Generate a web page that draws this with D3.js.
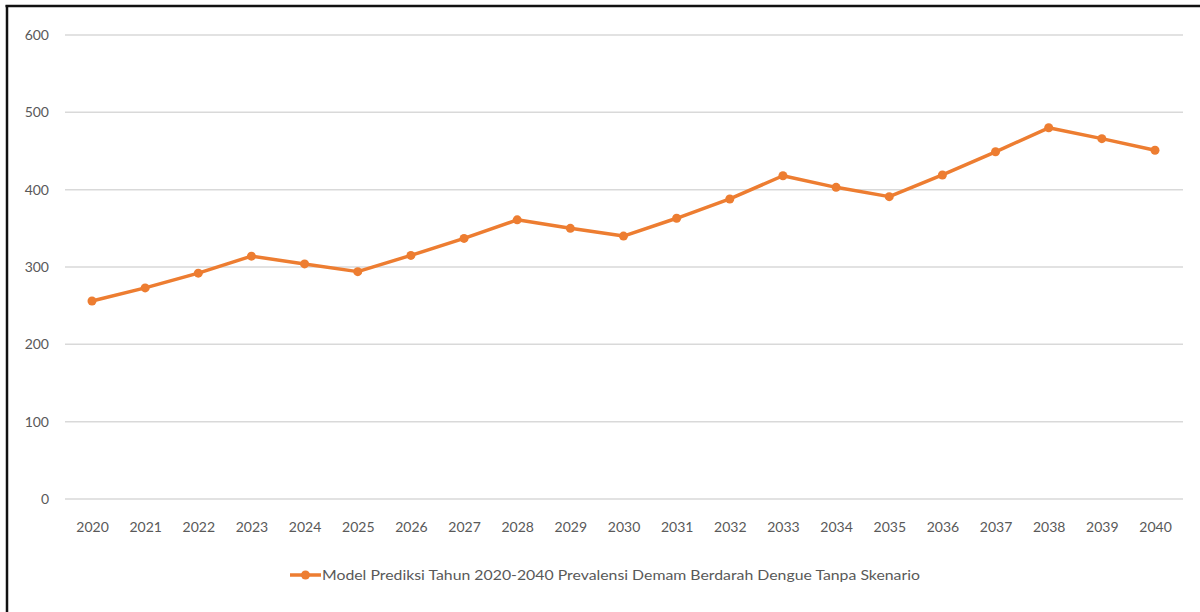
<!DOCTYPE html>
<html><head><meta charset="utf-8">
<script src="https://cdn.jsdelivr.net/npm/d3@7"></script>
<style>body{margin:0;background:#fff}svg{display:block}text{font-family:Lato,"Open Sans",sans-serif;fill:#595959}</style>
</head><body><svg id="c" width="1200" height="612"></svg>
<script>
const years = ["2020","2021","2022","2023","2024","2025","2026","2027","2028","2029","2030","2031","2032","2033","2034","2035","2036","2037","2038","2039","2040"];
const values = [256,273,292,314,304,294,315,337,361,350,340,363,388,418,403,391,419,449,480,466,451];
const yTicks = [0,100,200,300,400,500,600];
const seriesName = "Model Prediksi Tahun 2020-2040 Prevalensi Demam Berdarah Dengue Tanpa Skenario";
const color = "#ED7D31";

const svg = d3.select("#c");
const x = d3.scalePoint().domain(years).range([92,1155]);
const y = d3.scaleLinear().domain([0,600]).range([499,35]);

// gridlines
svg.append("g").selectAll("line").data(yTicks).join("line")
  .attr("x1",65).attr("x2",1183).attr("y1",d=>y(d)).attr("y2",d=>y(d))
  .attr("stroke","#d9d9d9").attr("stroke-width",1.5);

// y axis labels
const ya = svg.append("g").attr("transform","translate(49,0)")
  .call(d3.axisLeft(y).tickValues(yTicks).tickSize(0).tickPadding(0));
ya.select(".domain").remove();
ya.selectAll("text").attr("font-size",14).attr("fill","#595959").style("font-family","Lato,'Open Sans',sans-serif");

// x axis labels
const xa = svg.append("g").attr("transform","translate(0,522)")
  .call(d3.axisBottom(x).tickSize(0).tickPadding(0));
xa.select(".domain").remove();
xa.selectAll("text").attr("font-size",14).attr("fill","#595959").style("font-family","Lato,'Open Sans',sans-serif");

// line
svg.append("path").datum(values)
  .attr("d", d3.line().x((d,i)=>x(years[i])).y(d=>y(d)))
  .attr("fill","none").attr("stroke",color).attr("stroke-width",3.5).attr("stroke-linejoin","round");
svg.append("g").selectAll("circle").data(values).join("circle")
  .attr("cx",(d,i)=>x(years[i])).attr("cy",d=>y(d)).attr("r",4.5).attr("fill",color);

// legend
const lg = svg.append("g").attr("transform","translate(290,575)");
lg.append("line").attr("x1",0).attr("x2",31).attr("stroke",color).attr("stroke-width",3.5);
lg.append("circle").attr("cx",15.5).attr("r",4.5).attr("fill",color);
lg.append("text").attr("x",32).attr("dy","0.35em").attr("font-size",14)
  .attr("textLength",598).attr("lengthAdjust","spacingAndGlyphs").text(seriesName);

// frame (top and left)
svg.append("line").attr("x1",5.5).attr("x2",1200).attr("y1",6).attr("y2",6).attr("stroke","#111").attr("stroke-width",2.5);
svg.append("line").attr("x1",7).attr("x2",7).attr("y1",5).attr("y2",612).attr("stroke","#111").attr("stroke-width",2.5);
</script></body></html>
